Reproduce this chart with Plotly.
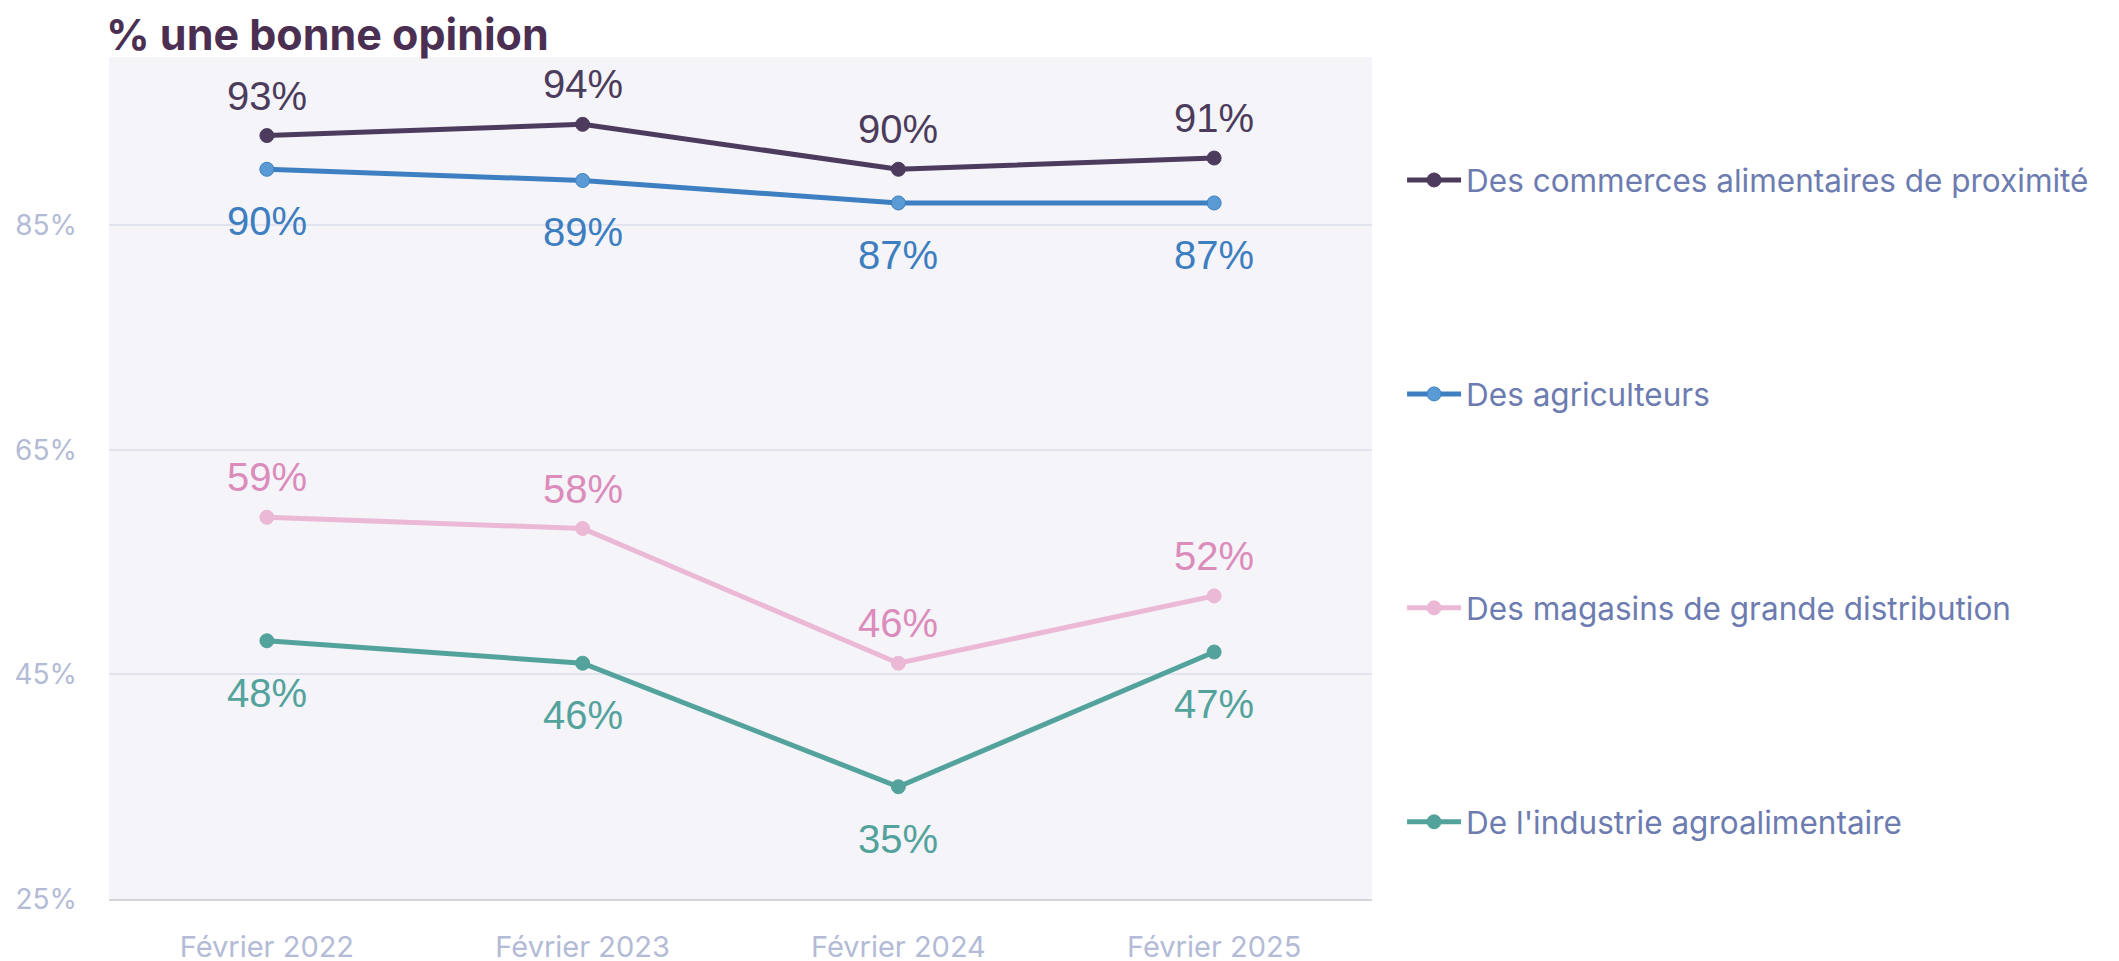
"""
Courbes '% une bonne opinion' par type d'acteur, 2022-2025.
"""

import plotly.graph_objects as go

periodes = ["Février 2022", "Février 2023", "Février 2024", "Février 2025"]

series = [
    "Des commerces alimentaires de proximité",
    "Des agriculteurs",
    "Des magasins de grande distribution",
    "De l'industrie agroalimentaire",
]
commerces_proximite = [93, 94, 90, 91]
agriculteurs = [90, 89, 87, 87]
grande_distribution = [59, 58, 46, 52]
industrie_agro = [48, 46, 35, 47]

valeurs_y = [25, 45, 65, 85]

# couleurs : ligne, marqueur, texte, position de l'étiquette
_STYLES = [
    ("#4D3B5E", "#4D3B5E", "#4B3C5C", "haut"),
    ("#3D7FC1", "#5B9BD5", "#3D7EC0", "bas"),
    ("#EBB8D6", "#EBB8D6", "#DC8CBB", "haut"),
    ("#53A39C", "#53A39C", "#53A39C", "bas"),
]

_POLICE = "Inter"
_POLICE_NOMBRES = "Liberation Sans"

# la page ajoute 8 px de marge autour de la figure
_L, _T = 101, 49
_LARG, _HAUT = 2103, 961

fig = go.Figure()
annotations = []
donnees = [commerces_proximite, agriculteurs, grande_distribution, industrie_agro]

for i, (nom, vals, (c_ligne, c_marq, c_texte, pos)) in enumerate(zip(series, donnees, _STYLES)):
    fig.add_trace(
        go.Scatter(
            x=periodes,
            y=vals,
            name=nom,
            mode="lines+markers",
            legendgroup=f"g{i}",
            line=dict(color=c_ligne, width=5),
            marker=dict(color=c_marq, size=14, line=dict(color=c_ligne, width=1)),
            hoverinfo="skip",
        )
    )
    for x, v in zip(periodes, vals):
        annotations.append(
            dict(
                x=x,
                y=v,
                xref="x",
                yref="y",
                text=f"{v}%",
                showarrow=False,
                yshift=40 if pos == "haut" else -52,
                font=dict(family=_POLICE_NOMBRES, size=40, color=c_texte),
            )
        )

fig.update_layout(
    width=_LARG,
    height=_HAUT,
    paper_bgcolor="white",
    plot_bgcolor="#F4F4F9",
    margin=dict(l=_L, r=_LARG - 1364, t=_T, b=_HAUT - 891, autoexpand=False),
    font=dict(family=_POLICE, color="#B3BBD6"),
    title=dict(
        text="<b>% une bonne opinion</b>",
        x=98 / _LARG,
        xanchor="left",
        y=1 - 27 / _HAUT,
        yanchor="middle",
        font=dict(family=_POLICE, size=43, color="#4B2F52"),
    ),
    showlegend=True,
    legend=dict(
        x=1.0238,
        xanchor="left",
        y=0.886,
        yanchor="top",
        tracegroupgap=170,
        itemwidth=54,
        font=dict(family=_POLICE, size=31.5, color="#6D7CB0"),
        bgcolor="rgba(0,0,0,0)",
    ),
    annotations=annotations,
    xaxis=dict(
        type="category",
        range=[-0.5, 3.5],
        automargin=False,
        showgrid=False,
        showline=True,
        linecolor="#D6D6DA",
        linewidth=2,
        ticks="",
        ticklabelstandoff=21,
        tickfont=dict(family=_POLICE, size=29, color="#B3BBD6"),
    ),
    yaxis=dict(
        range=[25, 100],
        automargin=False,
        tickvals=valeurs_y,
        ticktext=[f"{v}%" for v in valeurs_y],
        showgrid=True,
        gridcolor="#E1E3EE",
        gridwidth=2,
        zeroline=False,
        ticks="",
        ticklabelstandoff=31,
        tickfont=dict(family=_POLICE, size=28, color="#B3BBD6"),
    ),
)

fig.write_html("out.html")
